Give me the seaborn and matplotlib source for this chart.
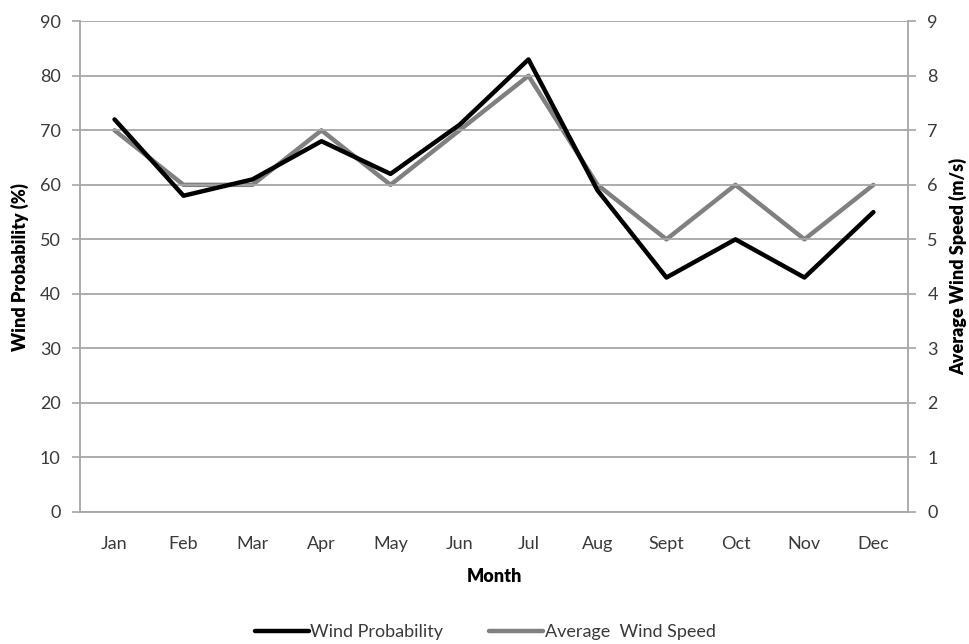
import matplotlib
matplotlib.use("Agg")
import matplotlib.pyplot as plt
from matplotlib.lines import Line2D
import seaborn as sns
import pandas as pd
import numpy as np

months = ["Jan", "Feb", "Mar", "Apr", "May", "Jun", "Jul", "Aug", "Sept", "Oct", "Nov", "Dec"]
wind_probability = [72, 58, 61, 68, 62, 71, 83, 59, 43, 50, 43, 55]
avg_wind_speed = [7, 6, 6, 7, 6, 7, 8, 6, 5, 6, 5, 6]

sns.set_theme(style="white")
plt.rcParams["font.family"] = ["Lato", "DejaVu Sans"]

grid_col = "#a6a6a6"
text_col = "#3a3a3a"
black = "#000000"
gray = "#808080"

df = pd.DataFrame({
    "pos": np.arange(len(months)),
    "month": months,
    "prob": wind_probability,
    "speed": avg_wind_speed,
})

fig = plt.figure(figsize=(9.7, 6.44), dpi=100)
ax = fig.add_axes([0.0825, 0.205, 0.8535, 0.762])
ax2 = ax.twinx()

sns.lineplot(data=df, x="pos", y="prob", ax=ax, color=black, linewidth=3.2,
             sort=False, zorder=4)
sns.lineplot(data=df, x="pos", y="speed", ax=ax2, color=gray, linewidth=3.2,
             sort=False, zorder=3)
ax.set_zorder(ax2.get_zorder() + 1)
ax.patch.set_visible(False)

ax.set_ylim(0, 90)
ax2.set_ylim(0, 9)
ax.set_yticks(np.arange(0, 91, 10))
ax2.set_yticks(np.arange(0, 10, 1))
ax.set_xlim(-0.5, len(months) - 0.5)

fs = 13
ax.set_xticks(df["pos"])
ax.set_xticklabels(months)
ax.set_xticks(np.arange(-0.5, len(months), 1), minor=True)
ax.tick_params(axis="x", which="major", length=0, pad=17, labelsize=fs, labelcolor=text_col)
ax.tick_params(axis="x", which="minor", length=6, width=1.2, color=grid_col, direction="out")
ax.tick_params(axis="y", length=6, width=1.2, color=grid_col, direction="out",
               labelsize=fs, labelcolor=text_col, pad=8)
ax2.tick_params(axis="y", length=6, width=1.2, color=grid_col, direction="out",
                labelsize=fs, labelcolor=text_col, pad=8)

ax.yaxis.grid(True, color=grid_col, linewidth=1.3)
ax.set_axisbelow(True)

for a in (ax, ax2):
    a.spines["top"].set_visible(False)
    for side in ("left", "right", "bottom"):
        a.spines[side].set_color(grid_col)
        a.spines[side].set_linewidth(1.3)
ax.spines["right"].set_visible(False)
ax2.spines["left"].set_visible(False)
ax2.spines["bottom"].set_visible(False)

ax.set_xlabel("Month", fontsize=fs, fontweight="heavy", color="#000000", labelpad=12)
ax.set_ylabel("Wind Probability (%)", fontsize=fs, fontweight="heavy", color="#000000", labelpad=8)
ax2.set_ylabel("Average Wind Speed (m/s)", fontsize=fs, fontweight="heavy", color="#000000", labelpad=8)

handles = [
    Line2D([], [], color=black, linewidth=3.2),
    Line2D([], [], color=gray, linewidth=3.2),
]
fig.legend(handles, ["Wind Probability", "Average  Wind Speed"], loc="center",
           bbox_to_anchor=(0.5, 0.018), ncol=2, frameon=False, fontsize=fs,
           handlelength=3.0, handletextpad=0.1, columnspacing=2.5,
           labelcolor=text_col)

fig.savefig("out.png", dpi=100)
